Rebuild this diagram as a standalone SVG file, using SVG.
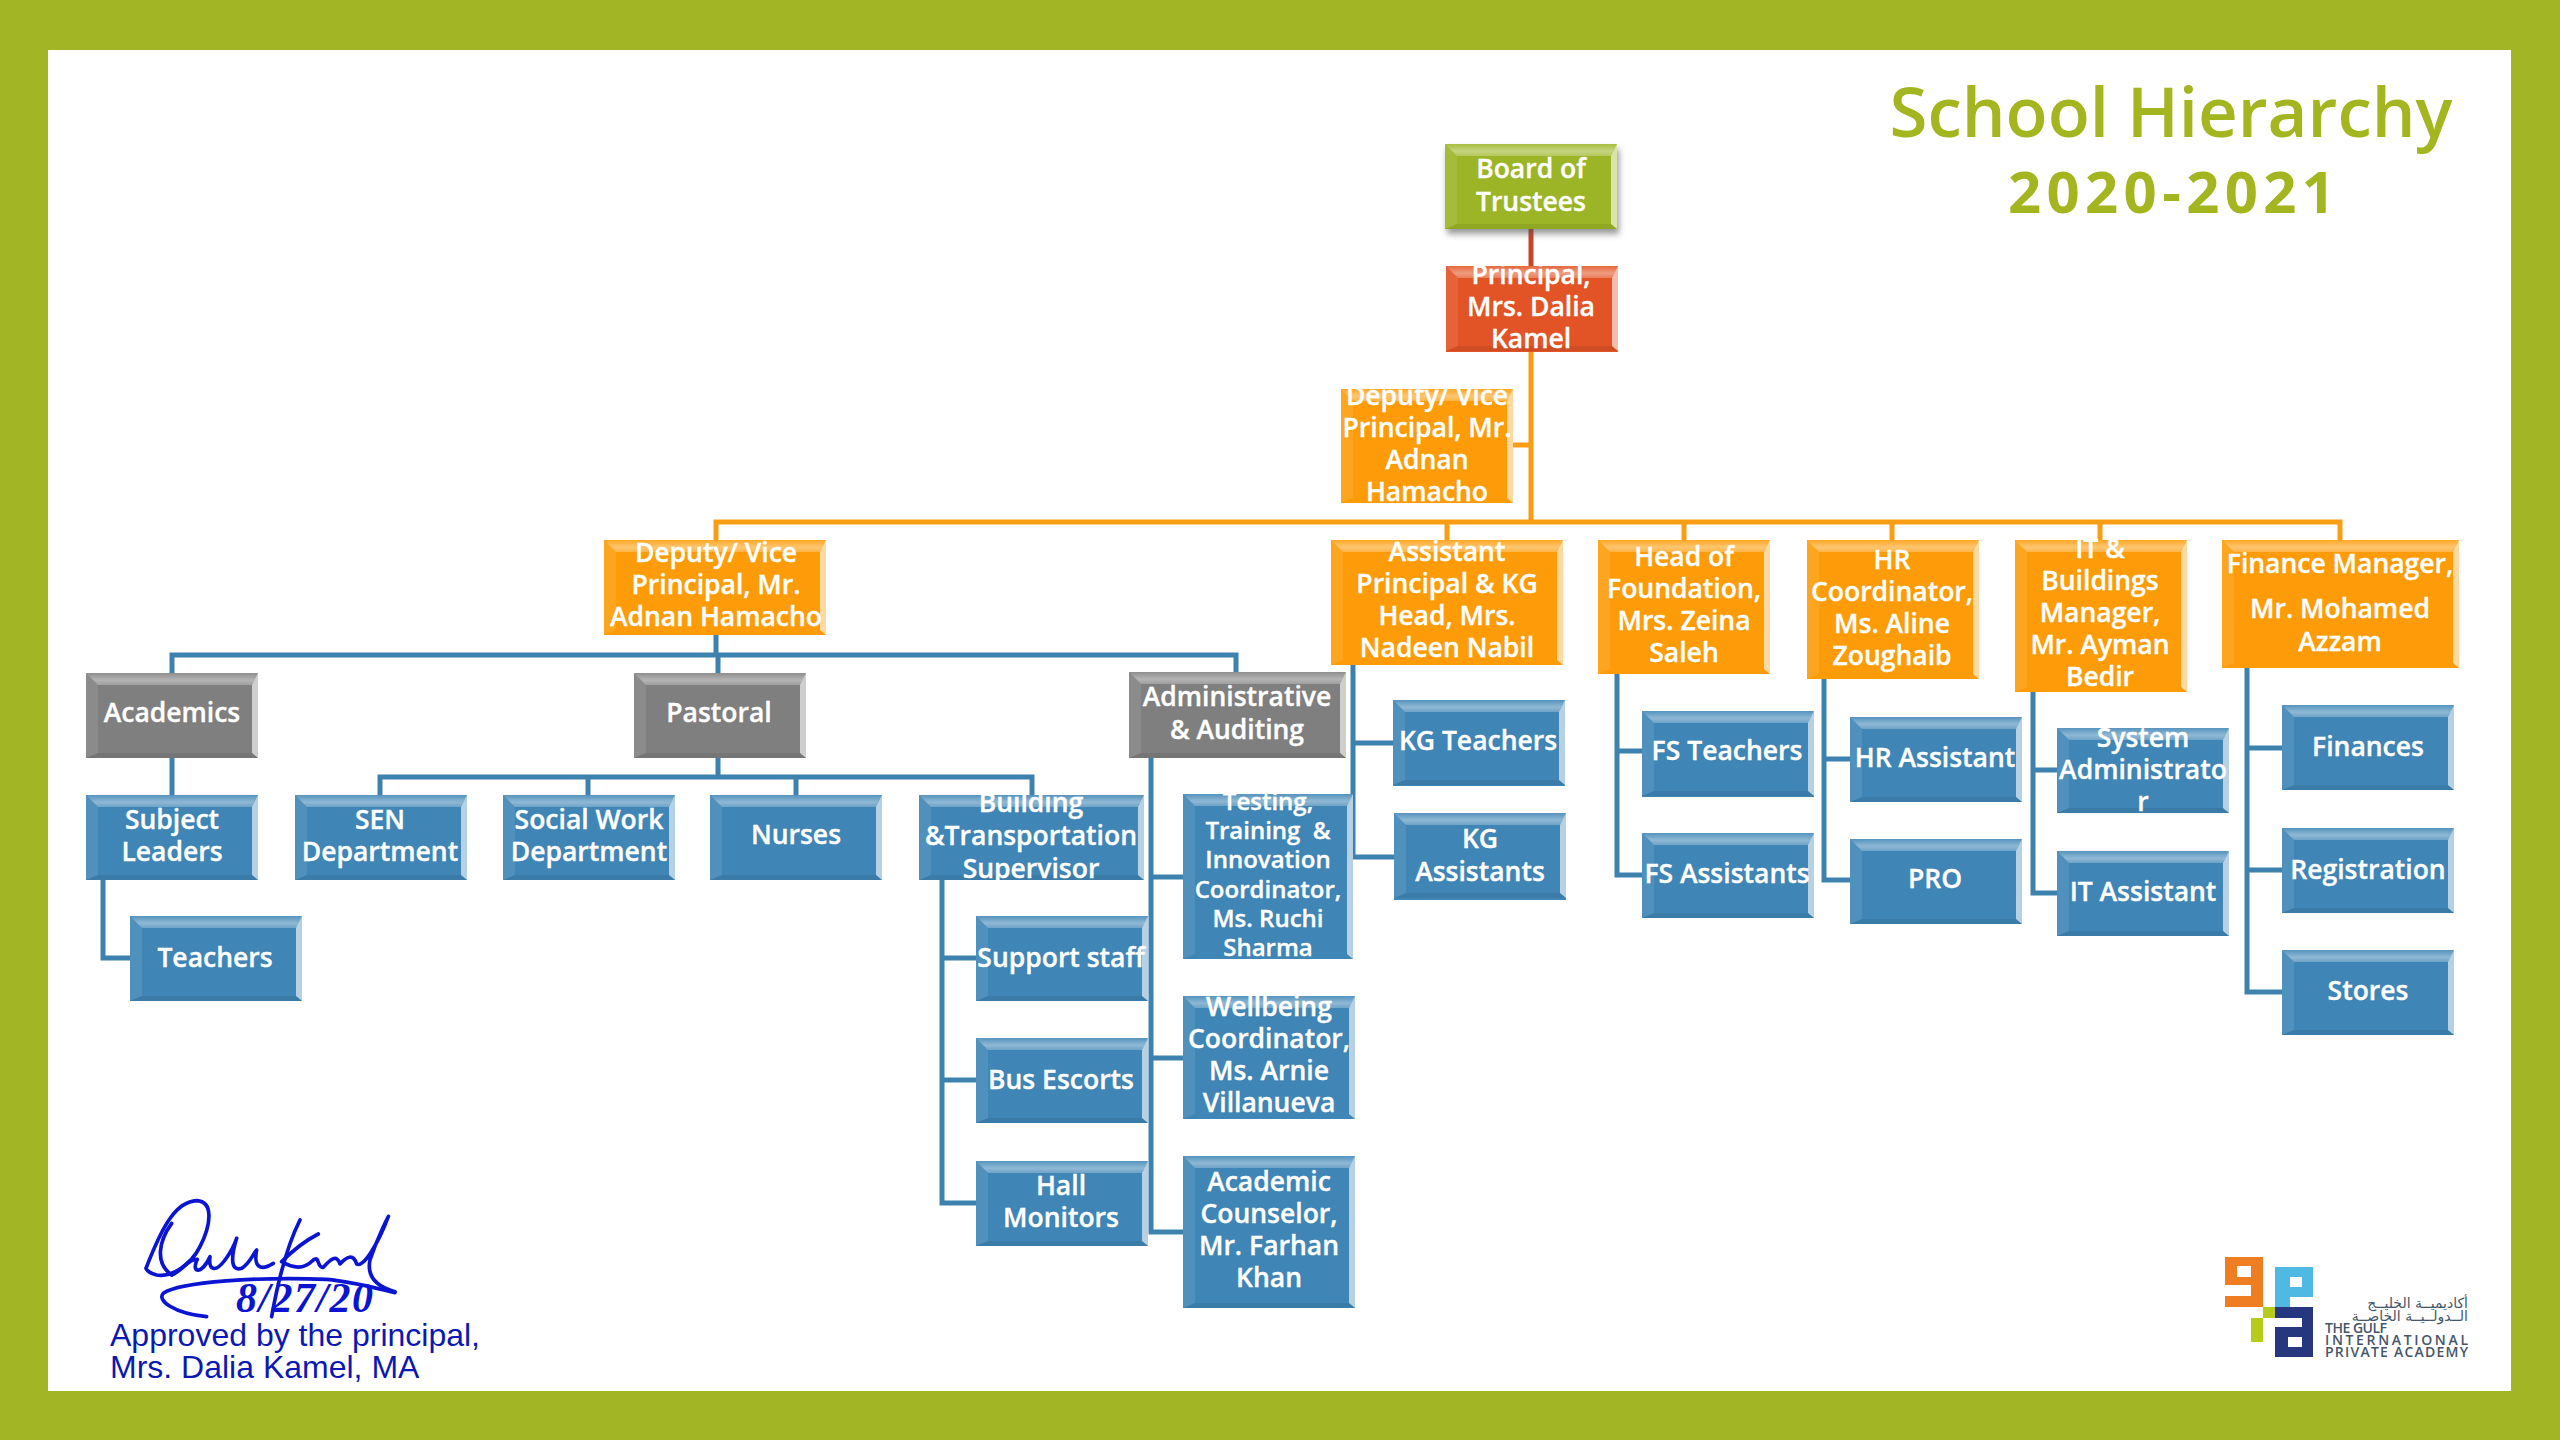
<svg xmlns="http://www.w3.org/2000/svg" width="2560" height="1440" viewBox="0 0 2560 1440">
<style>
text{font-family:"Open Sans","Noto Sans",sans-serif}
.n text{font-size:26.5px;font-weight:600;fill:#fff;stroke:#fff;stroke-width:.35;text-anchor:middle}
.n text.s{font-size:24px}
.t{fill:url(#tg);filter:url(#soft)}.r{fill:#fff;fill-opacity:.62;filter:url(#soft)}.l{fill:#fff;fill-opacity:.09;filter:url(#soft)}.b{fill:#000;fill-opacity:.08;filter:url(#soft)}
.blue{fill:#3f85b5}.or{fill:#fd9c08}.gr{fill:#7f7f7f}.red{fill:#e25325}.gn{fill:#9cb526}
.co path{fill:none;stroke-width:5}
.cb{stroke:#3d82ae}.co .co1{stroke:#f99d15}
.sig{fill:none;stroke:#0a14d2;stroke-width:11;stroke-linecap:round;stroke-linejoin:round}
.lg{font-size:14px;font-weight:600;fill:#46566a}
.ar{font-family:"DejaVu Sans",sans-serif;font-size:14px;font-weight:400;fill:#46566a;direction:rtl}
</style>
<defs>
<linearGradient id="tg" x1="0" y1="0" x2="0" y2="1"><stop offset="0" stop-color="#fff" stop-opacity=".12"/><stop offset=".6" stop-color="#fff" stop-opacity=".42"/><stop offset="1" stop-color="#fff" stop-opacity=".25"/></linearGradient>
<filter id="soft" x="-5%" y="-20%" width="110%" height="140%"><feGaussianBlur stdDeviation=".7"/></filter>
<g id="bev"><path class="t" d="M0 0h172l-6 12h-154z"/><path class="r" d="M172 0v85l-6-5v-68z"/><path class="l" d="M0 0v85l12-5v-68z"/><path class="b" d="M0 85h172l-6-5h-154z"/></g>
<filter id="sh" x="-10%" y="-10%" width="120%" height="130%"><feGaussianBlur stdDeviation="3"/></filter>
</defs>
<rect width="2560" height="1440" fill="#a2b625"/>
<rect x="48" y="50" width="2463" height="1341" fill="#fff"/>
<text x="2171" y="137" text-anchor="middle" font-size="69" font-weight="600" fill="#a3b51f">School Hierarchy</text>
<text x="2008" y="213" font-size="58" font-weight="700" fill="#a3b51f" textLength="327">2020-2021</text>

<g id="connectors" class="co">
<path d="M1531 229V266" stroke="#c8452a"/>
<path class="co1" d="M1531 352V522M1513 445H1531M716 540V522H2340V540M1447 522V540M1684 522V540M1892 522V540M2100 522V540"/>
<path class="cb" d="M716 635V655M172 673V655H1236V672M718 655V673"/>
<path class="cb" d="M172 758V795M103 880V958H130"/>
<path class="cb" d="M718 758V777M380 795V777H1032V795M588 777V795M796 777V795"/>
<path class="cb" d="M942 880V1203H976M942 958H976M942 1080H976"/>
<path class="cb" d="M1151 758V1232H1183M1151 877H1183M1151 1058H1183"/>
<path class="cb" d="M1353 665V857H1394M1353 743H1393"/>
<path class="cb" d="M1617 674V875H1642M1617 751H1642"/>
<path class="cb" d="M1824 679V880H1850M1824 759H1850"/>
<path class="cb" d="M2033 692V893H2057M2033 770H2057"/>
<path class="cb" d="M2247 668V992H2282M2247 748H2282M2247 870H2282"/>
</g>

<g id="board" class="n"><rect x="1447" y="149" width="172" height="85" fill="#555" opacity=".6" filter="url(#sh)"/><rect class="gn" x="1445" y="144" width="172" height="85"/><use href="#bev" x="1445" y="144"/><text x="1531" y="178">Board of<tspan x="1531" dy="33">Trustees</tspan></text></g>
<g id="principal" class="n"><rect class="red" x="1446" y="266" width="172" height="86"/><use href="#bev" x="1446" y="266"/><text x="1531" y="284">Principal,<tspan x="1531" dy="32">Mrs. Dalia</tspan><tspan x="1531" dy="32">Kamel</tspan></text></g>
<g id="deputy1" class="n"><rect class="or" x="1341" y="389" width="172" height="114"/><path class="t" d="M1341 389h172l-6 12h-154z"/><path class="r" d="M1513 389v114l-6-5v-97z"/><path class="l" d="M1341 389v114l12-5v-97z"/><text x="1427" y="405">Deputy/ Vice<tspan x="1427" dy="32">Principal, Mr.</tspan><tspan x="1427" dy="32">Adnan</tspan><tspan x="1427" dy="32">Hamacho</tspan></text></g>
<g id="deputy2" class="n"><rect class="or" x="604" y="540" width="222" height="95"/><path class="t" d="M604 540h222l-6 12h-204z"/><path class="r" d="M826 540v95l-6-5v-78z"/><path class="l" d="M604 540v95l12-5v-78z"/><text x="716" y="562">Deputy/ Vice<tspan x="716" dy="32">Principal, Mr.</tspan><tspan x="716" dy="32">Adnan Hamacho</tspan></text></g>
<g id="assistant" class="n"><rect class="or" x="1331" y="540" width="232" height="125"/><path class="t" d="M1331 540h232l-6 12h-214z"/><path class="r" d="M1563 540v125l-6-5v-108z"/><path class="l" d="M1331 540v125l12-5v-108z"/><text x="1447" y="561">Assistant<tspan x="1447" dy="32">Principal &amp; KG</tspan><tspan x="1447" dy="32">Head, Mrs.</tspan><tspan x="1447" dy="32">Nadeen Nabil</tspan></text></g>
<g id="foundation" class="n"><rect class="or" x="1598" y="540" width="172" height="134"/><path class="t" d="M1598 540h172l-6 12h-154z"/><path class="r" d="M1770 540v134l-6-5v-117z"/><path class="l" d="M1598 540v134l12-5v-117z"/><text x="1684" y="566">Head of<tspan x="1684" dy="32">Foundation,</tspan><tspan x="1684" dy="32">Mrs. Zeina</tspan><tspan x="1684" dy="32">Saleh</tspan></text></g>
<g id="hr" class="n"><rect class="or" x="1807" y="540" width="172" height="139"/><path class="t" d="M1807 540h172l-6 12h-154z"/><path class="r" d="M1979 540v139l-6-5v-122z"/><path class="l" d="M1807 540v139l12-5v-122z"/><text x="1892" y="569">HR<tspan x="1892" dy="32">Coordinator,</tspan><tspan x="1892" dy="32">Ms. Aline</tspan><tspan x="1892" dy="32">Zoughaib</tspan></text></g>
<g id="it" class="n"><rect class="or" x="2015" y="540" width="172" height="152"/><path class="t" d="M2015 540h172l-6 12h-154z"/><path class="r" d="M2187 540v152l-6-5v-135z"/><path class="l" d="M2015 540v152l12-5v-135z"/><text x="2100" y="558">IT &amp;<tspan x="2100" dy="32">Buildings</tspan><tspan x="2100" dy="32">Manager,</tspan><tspan x="2100" dy="32">Mr. Ayman</tspan><tspan x="2100" dy="32">Bedir</tspan></text></g>
<g id="finance" class="n"><rect class="or" x="2222" y="540" width="237" height="128"/><path class="t" d="M2222 540h237l-6 12h-219z"/><path class="r" d="M2459 540v128l-6-5v-111z"/><path class="l" d="M2222 540v128l12-5v-111z"/><text x="2340" y="573">Finance Manager,<tspan x="2340" dy="45">Mr. Mohamed</tspan><tspan x="2340" dy="33">Azzam</tspan></text></g>

<g id="academics" class="n"><rect class="gr" x="86" y="673" width="172" height="85"/><use href="#bev" x="86" y="673"/><text x="172" y="722">Academics</text></g>
<g id="pastoral" class="n"><rect class="gr" x="634" y="673" width="172" height="85"/><use href="#bev" x="634" y="673"/><text x="719" y="722">Pastoral</text></g>
<g id="admin" class="n"><rect class="gr" x="1129" y="672" width="217" height="86"/><path class="t" d="M1129 672h217l-6 12h-199z"/><path class="r" d="M1346 672v86l-6-5v-69z"/><path class="l" d="M1129 672v86l12-5v-69z"/><path class="b" d="M1129 758h217l-6-5h-199z"/><text x="1237" y="706">Administrative<tspan x="1237" dy="33">&amp; Auditing</tspan></text></g>

<g id="subject" class="n"><rect class="blue" x="86" y="795" width="172" height="85"/><use href="#bev" x="86" y="795"/><text x="172" y="829">Subject<tspan x="172" dy="32">Leaders</tspan></text></g>
<g id="teachers" class="n"><rect class="blue" x="130" y="916" width="172" height="85"/><use href="#bev" x="130" y="916"/><text x="215" y="967">Teachers</text></g>
<g id="sen" class="n"><rect class="blue" x="295" y="795" width="172" height="85"/><use href="#bev" x="295" y="795"/><text x="380" y="829">SEN<tspan x="380" dy="32">Department</tspan></text></g>
<g id="social" class="n"><rect class="blue" x="503" y="795" width="172" height="85"/><use href="#bev" x="503" y="795"/><text x="589" y="829">Social Work<tspan x="589" dy="32">Department</tspan></text></g>
<g id="nurses" class="n"><rect class="blue" x="710" y="795" width="172" height="85"/><use href="#bev" x="710" y="795"/><text x="796" y="844">Nurses</text></g>
<g id="building" class="n"><rect class="blue" x="919" y="795" width="225" height="85"/><path class="t" d="M919 795h225l-6 12h-207z"/><path class="r" d="M1144 795v85l-6-5v-68z"/><path class="l" d="M919 795v85l12-5v-68z"/><path class="b" d="M919 880h225l-6-5h-207z"/><text x="1031" y="812">Building<tspan x="1031" dy="33">&amp;Transportation</tspan><tspan x="1031" dy="33">Supervisor</tspan></text></g>
<g id="support" class="n"><rect class="blue" x="976" y="916" width="172" height="85"/><use href="#bev" x="976" y="916"/><text x="1061" y="967">Support staff</text></g>
<g id="bus" class="n"><rect class="blue" x="976" y="1038" width="172" height="85"/><use href="#bev" x="976" y="1038"/><text x="1061" y="1089">Bus Escorts</text></g>
<g id="hall" class="n"><rect class="blue" x="976" y="1161" width="172" height="85"/><use href="#bev" x="976" y="1161"/><text x="1061" y="1195">Hall<tspan x="1061" dy="32">Monitors</tspan></text></g>
<g id="testing" class="n"><rect class="blue" x="1183" y="794" width="170" height="165"/><path class="t" d="M1183 794h170l-6 12h-152z"/><path class="r" d="M1353 794v165l-6-5v-148z"/><path class="l" d="M1183 794v165l12-5v-148z"/><text class="s" x="1268" y="810" style="white-space:pre">Testing,<tspan x="1268" dy="29.2">Training  &amp;</tspan><tspan x="1268" dy="29.2">Innovation</tspan><tspan x="1268" dy="29.2">Coordinator,</tspan><tspan x="1268" dy="29.2">Ms. Ruchi</tspan><tspan x="1268" dy="29.2">Sharma</tspan></text></g>
<g id="wellbeing" class="n"><rect class="blue" x="1183" y="996" width="172" height="123"/><path class="t" d="M1183 996h172l-6 12h-154z"/><path class="r" d="M1355 996v123l-6-5v-106z"/><path class="l" d="M1183 996v123l12-5v-106z"/><text x="1269" y="1016">Wellbeing<tspan x="1269" dy="32">Coordinator,</tspan><tspan x="1269" dy="32">Ms. Arnie</tspan><tspan x="1269" dy="32">Villanueva</tspan></text></g>
<g id="counselor" class="n"><rect class="blue" x="1183" y="1156" width="172" height="152"/><path class="t" d="M1183 1156h172l-6 12h-154z"/><path class="r" d="M1355 1156v152l-6-5v-135z"/><path class="l" d="M1183 1156v152l12-5v-135z"/><path class="b" d="M1183 1308h172l-6-5h-154z"/><text x="1269" y="1191">Academic<tspan x="1269" dy="32">Counselor,</tspan><tspan x="1269" dy="32">Mr. Farhan</tspan><tspan x="1269" dy="32">Khan</tspan></text></g>
<g id="kgteachers" class="n"><rect class="blue" x="1393" y="700" width="172" height="86"/><use href="#bev" x="1393" y="700"/><text x="1478" y="750">KG Teachers</text></g>
<g id="kgassistants" class="n"><rect class="blue" x="1394" y="813" width="172" height="87"/><use href="#bev" x="1394" y="813"/><text x="1480" y="848">KG<tspan x="1480" dy="33">Assistants</tspan></text></g>
<g id="fsteachers" class="n"><rect class="blue" x="1642" y="711" width="172" height="86"/><use href="#bev" x="1642" y="711"/><text x="1727" y="760">FS Teachers</text></g>
<g id="fsassistants" class="n"><rect class="blue" x="1642" y="833" width="172" height="85"/><use href="#bev" x="1642" y="833"/><text x="1727" y="883">FS Assistants</text></g>
<g id="hrassistant" class="n"><rect class="blue" x="1850" y="717" width="172" height="85"/><use href="#bev" x="1850" y="717"/><text x="1935" y="767">HR Assistant</text></g>
<g id="pro" class="n"><rect class="blue" x="1850" y="839" width="172" height="85"/><use href="#bev" x="1850" y="839"/><text x="1935" y="888">PRO</text></g>
<g id="sysadmin" class="n"><rect class="blue" x="2057" y="728" width="172" height="85"/><use href="#bev" x="2057" y="728"/><text x="2143" y="747">System<tspan x="2143" dy="32">Administrato</tspan><tspan x="2143" dy="32">r</tspan></text></g>
<g id="itassistant" class="n"><rect class="blue" x="2057" y="851" width="172" height="85"/><use href="#bev" x="2057" y="851"/><text x="2143" y="901">IT Assistant</text></g>
<g id="finances" class="n"><rect class="blue" x="2282" y="705" width="172" height="85"/><use href="#bev" x="2282" y="705"/><text x="2368" y="756">Finances</text></g>
<g id="registration" class="n"><rect class="blue" x="2282" y="828" width="172" height="85"/><use href="#bev" x="2282" y="828"/><text x="2368" y="879">Registration</text></g>
<g id="stores" class="n"><rect class="blue" x="2282" y="950" width="172" height="85"/><use href="#bev" x="2282" y="950"/><text x="2368" y="1000">Stores</text></g>

<g id="signature">
<g class="sig" transform="translate(60 1160) scale(.3333)">
<path d="M258 325C310 190 350 125 410 122C460 125 455 190 420 260C390 320 330 352 290 345C270 340 260 330 258 325"/>
<path d="M335 190C295 245 285 310 335 345"/>
<path d="M335 345C365 335 385 295 412 298C392 340 425 345 450 290C445 330 465 340 495 300C510 280 525 250 530 235C510 300 515 335 545 325C570 310 580 280 590 270C580 320 600 335 640 310"/>
<path d="M720 180C690 240 660 330 635 470"/>
<path d="M775 222C720 250 685 285 665 305C700 325 730 330 760 300C780 285 770 325 790 322C810 300 830 280 840 312C860 290 880 280 890 312C910 325 955 250 985 170C990 160 955 225 930 300C920 350 950 380 1005 395"/>
<path d="M440 470C340 460 290 420 310 400C360 365 600 350 800 358C880 365 950 385 1005 398"/>
</g>
<text x="236" y="1312" font-size="42" font-weight="700" font-style="italic" fill="#0a14d2" textLength="137" style="font-family:'Liberation Serif',serif">8/27/20</text>
<text x="110" y="1346" font-size="32" fill="#0c18b4" style="font-family:'Liberation Sans',Arial,sans-serif">Approved by the principal,</text>
<text x="110" y="1378" font-size="32" fill="#0c18b4" style="font-family:'Liberation Sans',Arial,sans-serif">Mrs. Dalia Kamel, MA</text>
</g>

<g id="logo">
<path fill="#ef7d22" fill-rule="evenodd" d="M2225 1257h38v50h-38v-11h26v-11h-26zM2237 1266v11h14v-11z"/>
<path fill="#4fb9e3" fill-rule="evenodd" d="M2275 1267h38v30h-23v10h-15zM2290 1277v10h12v-10z"/>
<path fill="#b5cc18" d="M2263 1307h12v11h-12zM2251 1318h12v24h-12z"/>
<path fill="#26377f" fill-rule="evenodd" d="M2275 1307h38v50h-38v-30h27v-9h-27zM2288 1337v10h14v-10z"/>
<text class="ar" x="2468" y="1308">أكاديميــة الخليــج</text>
<text class="ar" x="2468" y="1321">الــدولــيــة الخاصــة</text>
<text class="lg" x="2325" y="1333" textLength="62">THE GULF</text>
<text class="lg" x="2325" y="1345" textLength="143">INTERNATIONAL</text>
<text class="lg" x="2325" y="1357" textLength="143">PRIVATE ACADEMY</text>
</g>
</svg>
